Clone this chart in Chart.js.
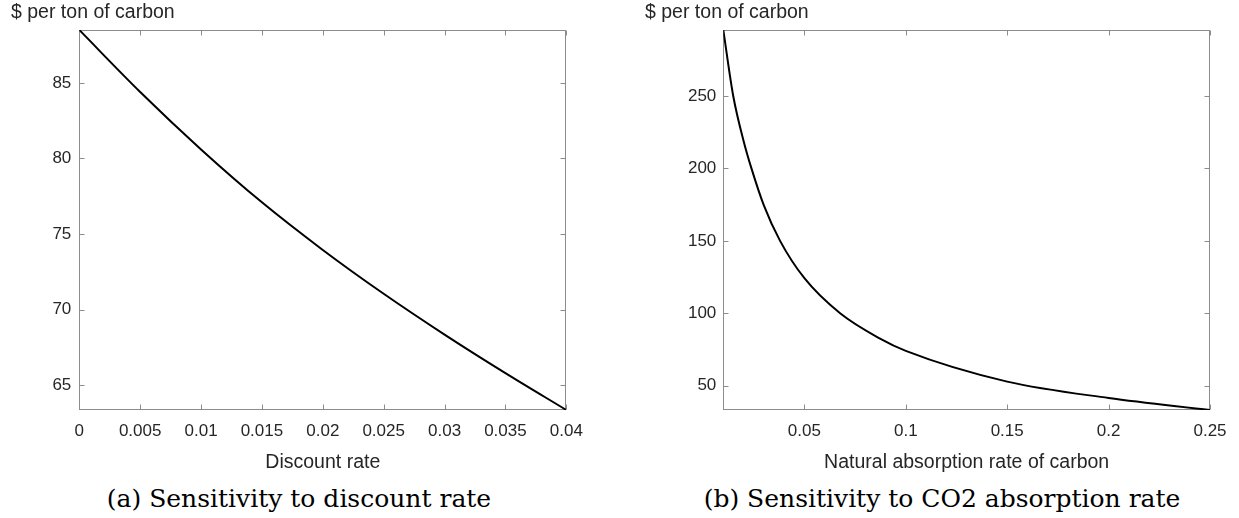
<!DOCTYPE html>
<html>
<head>
<meta charset="utf-8">
<script src="https://cdn.jsdelivr.net/npm/chart.js@4.4.1/dist/chart.umd.min.js"></script>
<style>
  body { margin: 0; background: #fff; width: 1239px; height: 518px; position: relative; overflow: hidden; }
  canvas { position: absolute; top: 0; }
  #chartA { left: 0; }
  #chartB { left: 600px; }
  .caption {
    position: absolute; top: 486px; white-space: nowrap; transform: translateX(-50%);
    font-family: "DejaVu Serif", serif; font-size: 25px; line-height: 25px; color: #000;
  }
</style>
</head>
<body>
<canvas id="chartA" width="600" height="480"></canvas>
<canvas id="chartB" width="639" height="480"></canvas>
<div class="caption" style="left:299px">(a) Sensitivity to discount rate</div>
<div class="caption" style="left:942px">(b) Sensitivity to CO2 absorption rate</div>
<script>
// values
const discountRate = [0, 0.005, 0.01, 0.015, 0.02, 0.025, 0.03, 0.035, 0.04];
const sccDiscount = [88.5, 84.4, 80.6, 77.1, 73.95, 71.05, 68.35, 65.8, 63.36];
const discountXTicks = [0, 0.005, 0.01, 0.015, 0.02, 0.025, 0.03, 0.035, 0.04];
const discountYTicks = [65, 70, 75, 80, 85];

const absorptionRate = [0.01, 0.0149, 0.02, 0.024, 0.03, 0.038, 0.05, 0.0676, 0.0873, 0.1, 0.15, 0.2, 0.25];
const sccAbsorption = [295.6, 250, 219, 199.5, 174.5, 150, 124.2, 100, 82.5, 74, 52.8, 41.5, 33.2];
const absorptionXTicks = [0.05, 0.1, 0.15, 0.2, 0.25];
const absorptionYTicks = [50, 100, 150, 200, 250];

const FONT = '"Liberation Sans", Arial, sans-serif';
const TEXT_COLOR = "#262626";
const AXIS_COLOR = "#8c8c8c";
const TICK_LEN = 5;

// MATLAB style box with inward ticks on all four sides
const boxTicks = {
  id: "boxTicks",
  beforeDatasetsDraw(chart) {
    const { ctx, chartArea: a, scales: { x, y } } = chart;
    const l = Math.round(a.left) + 0.5, r = Math.round(a.right) - 0.5;
    const t = Math.round(a.top) + 0.5, b = Math.round(a.bottom) - 0.5;
    ctx.save();
    ctx.strokeStyle = AXIS_COLOR;
    ctx.lineWidth = 1;
    ctx.beginPath();
    x.ticks.forEach((tk) => {
      const px = Math.round(x.getPixelForValue(tk.value)) + 0.5;
      ctx.moveTo(px, b); ctx.lineTo(px, b - TICK_LEN);
      ctx.moveTo(px, t); ctx.lineTo(px, t + TICK_LEN);
    });
    y.ticks.forEach((tk) => {
      const py = Math.round(y.getPixelForValue(tk.value)) + 0.5;
      ctx.moveTo(l, py); ctx.lineTo(l + TICK_LEN, py);
      ctx.moveTo(r, py); ctx.lineTo(r - TICK_LEN, py);
    });
    ctx.stroke();
    ctx.strokeRect(l, t, r - l, b - t);
    ctx.restore();
  },
};

const makeChart = (el, xs, ys, xTicks, yTicks, xRange, yRange, xLabel, box) => {
  return new Chart(el, {
    type: "line",
    data: {
      datasets: [
        {
          data: xs.map((v, i) => ({ x: v, y: ys[i] })),
          borderColor: "#000",
          borderWidth: 2,
          pointRadius: 0,
          fill: false,
          cubicInterpolationMode: "monotone",
        },
      ],
    },
    options: {
      responsive: false,
      animation: false,
      layout: { autoPadding: false, padding: { left: box.padLeft, right: box.padRight, top: 0, bottom: 0 } },
      plugins: {
        legend: { display: false },
        tooltip: { enabled: false },
        title: {
          display: true,
          text: "$ per ton of carbon",
          align: "start",
          color: TEXT_COLOR,
          font: { family: FONT, size: 19.5, weight: "normal", lineHeight: 1.2 },
          padding: { top: 1, bottom: 30 - 1 - 23.4 },
        },
      },
      scales: {
        x: {
          type: "linear",
          min: xRange[0],
          max: xRange[1],
          afterBuildTicks: (s) => { s.ticks = xTicks.map((v) => ({ value: v })); },
          afterFit: (s) => { s.height = 70; s.paddingLeft = 0; s.paddingRight = 0; },
          grid: { display: false, drawTicks: false },
          border: { display: false },
          ticks: {
            padding: 11, color: TEXT_COLOR, autoSkip: false, maxRotation: 0,
            font: { family: FONT, size: 17 },
            callback: (v) => String(v),
          },
          title: {
            display: true, text: xLabel, color: TEXT_COLOR,
            font: { family: FONT, size: 19.5, lineHeight: 1.2 },
            padding: { top: 0, bottom: 6 },
          },
        },
        y: {
          type: "linear",
          min: yRange[0],
          max: yRange[1],
          afterBuildTicks: (s) => { s.ticks = yTicks.map((v) => ({ value: v })); },
          afterFit: (s) => { s.width = box.yWidth; s.paddingTop = 0; s.paddingBottom = 0; },
          grid: { display: false, drawTicks: false },
          border: { display: false },
          ticks: {
            padding: box.yPad, color: TEXT_COLOR, autoSkip: false,
            font: { family: FONT, size: 17 },
            callback: (v) => String(v),
          },
        },
      },
    },
    plugins: [boxTicks],
  });
};

makeChart(
  document.querySelector("#chartA"),
  discountRate, sccDiscount, discountXTicks, discountYTicks,
  [0, 0.04], [63.36, 88.5], "Discount rate",
  { padLeft: 11, padRight: 600 - 566.3, yWidth: 79.3 - 11, yPad: 8 }
);

makeChart(
  document.querySelector("#chartB"),
  absorptionRate, sccAbsorption, absorptionXTicks, absorptionYTicks,
  [0.01, 0.25], [33.2, 295.6], "Natural absorption rate of carbon",
  { padLeft: 45, padRight: 29, yWidth: 723.3 - 600 - 45, yPad: 7 }
);
</script>
</body>
</html>
